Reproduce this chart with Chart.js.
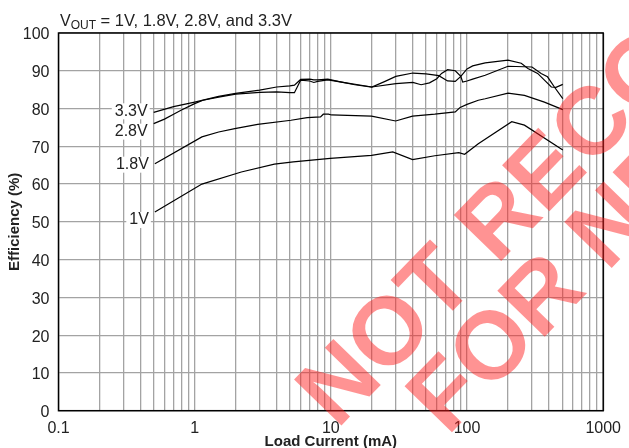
<!DOCTYPE html>
<html>
<head>
<meta charset="utf-8">
<script src="https://cdn.jsdelivr.net/npm/chart.js@4.4.1/dist/chart.umd.min.js"></script>
<style>
  html, body { margin: 0; padding: 0; background: #fff; }
  canvas { display: block; }
</style>
</head>
<body>
<canvas id="eff" width="629" height="448"></canvas>
<script>
// load current (mA) and efficiency (%)
var v33Current = [0.5, 0.7, 1.0, 1.5, 2, 3, 4, 5, 5.4, 6, 7, 7.5, 8, 9.5, 12, 15, 20, 25, 30, 40, 50, 55, 62, 72, 82, 90, 100, 110, 136, 200, 250, 280, 330, 416, 450, 505];
var v33Eff     = [79.0, 80.5, 81.7, 83.2, 84.0, 84.9, 85.7, 86.0, 86.2, 87.7, 87.8, 87.6, 87.6, 87.8, 87.0, 86.3, 85.7, 87.2, 88.5, 89.4, 89.2, 89.0, 88.7, 87.3, 87.2, 88.5, 90.5, 91.3, 92.1, 92.8, 92.0, 90.6, 89.3, 85.7, 85.6, 86.4];

var v28Current = [0.5, 0.6, 0.7, 0.8, 1.0, 1.15, 1.5, 2, 3, 4, 5, 5.4, 6, 7, 7.5, 8, 9.5, 12, 20, 30, 40, 46, 53, 60, 65, 72, 82, 90, 93, 100, 110, 136, 200, 300, 350, 390, 438, 505];
var v28Eff     = [76.0, 77.2, 78.5, 79.6, 81.3, 82.2, 83.0, 83.8, 84.3, 84.4, 84.2, 84.2, 87.5, 87.3, 86.9, 87.2, 87.6, 87.0, 85.7, 86.6, 86.9, 86.3, 86.8, 87.9, 89.3, 90.3, 90.0, 88.5, 87.0, 87.3, 87.8, 88.8, 91.2, 91.0, 89.3, 88.4, 85.7, 82.6];

var v18Current = [0.51, 1.13, 1.5, 1.97, 2.9, 5.1, 6.7, 8.4, 8.8, 9.6, 10.1, 19.9, 29.9, 39.8, 58, 82, 89, 100, 121, 136, 200, 264, 370, 505];
var v18Eff     = [65.4, 72.5, 73.8, 74.7, 75.8, 76.9, 77.6, 77.8, 78.5, 78.5, 78.3, 78.0, 76.7, 78.0, 78.5, 79.1, 80.3, 81.1, 82.2, 82.6, 84.1, 83.5, 81.7, 79.7];

var v1Current = [0.51, 1.13, 2.2, 3.85, 5.3, 9.9, 19.9, 28.5, 39.8, 58, 87, 96, 121, 213, 264, 505];
var v1Eff     = [52.6, 60.0, 63.2, 65.3, 65.9, 66.8, 67.6, 68.5, 66.5, 67.5, 68.3, 67.9, 70.7, 76.5, 75.6, 69.0];

var seriesNames = ['3.3V', '2.8V', '1.8V', '1V'];
var xTickLabels = [0.1, 1, 10, 100, 1000];
var yTickLabels = [0, 10, 20, 30, 40, 50, 60, 70, 80, 90, 100];

// log grid: 1..9 in every decade
var xGrid = [];
for (var d = 0; d < xTickLabels.length - 1; d++) {
  for (var m = 1; m < 10; m++) {
    xGrid.push(Number((m * xTickLabels[d]).toPrecision(3)));
  }
}
xGrid.push(xTickLabels[xTickLabels.length - 1]);

function pts(xs, ys) {
  return xs.map(function(x, i){ return {x: x, y: ys[i]}; });
}

// label offsets next to the start of each curve
var labelShift = [-1, 8, 1, 8];

var FONT = '"Liberation Sans", Arial, sans-serif';

var extras = {
  id: 'extras',
  beforeDatasetsDraw: function(chart) {
    var c = chart.ctx;
    c.save();
    c.font = '16px ' + FONT;
    c.textAlign = 'right';
    c.textBaseline = 'middle';
    chart.data.datasets.forEach(function(ds, i){
      var p = chart.getDatasetMeta(i).data[0];
      var tx = p.x - 6, ty = p.y + labelShift[i];
      var w = c.measureText(ds.label).width;
      c.fillStyle = '#fff';
      c.fillRect(tx - w - 3, ty - 8, w + 5, 16);
      c.fillStyle = '#222';
      c.fillText(ds.label, tx, ty);
    });
    c.restore();
  },
  afterDraw: function(chart) {
    var c = chart.ctx, a = chart.chartArea;
    c.save();
    c.strokeStyle = '#000';
    c.lineWidth = 1.5;
    c.strokeRect(a.left, a.top, a.right - a.left, a.bottom - a.top);

    // title with subscript
    c.fillStyle = '#222';
    c.textBaseline = 'alphabetic';
    c.textAlign = 'left';
    c.font = '16px ' + FONT;
    var x = 60;
    c.fillText('V', x, 26); x += c.measureText('V').width;
    c.font = '12px ' + FONT;
    c.fillText('OUT', x, 29); x += c.measureText('OUT').width;
    c.font = '16.5px ' + FONT;
    c.fillText(' = 1V, 1.8V, 2.8V, and 3.3V', x, 26);

    // axis titles
    c.font = 'bold 15px ' + FONT;
    c.textAlign = 'center';
    c.fillText('Load Current (mA)', (a.left + a.right) / 2, 446);
    c.translate(19, (a.top + a.bottom) / 2);
    c.rotate(-Math.PI / 2);
    c.fillText('Efficiency (%)', 0, 0);
    c.restore();

    // watermark
    c.save();
    c.fillStyle = 'rgba(255, 30, 30, 0.48)';
    c.font = 'bold 96px ' + FONT;
    c.textAlign = 'left';
    c.textBaseline = 'alphabetic';
    c.translate(337, 430);
    c.rotate(-0.8);
    c.fillText('NOT RECOMMENDED', 0, 0);
    c.fillText('FOR NEW DESIGNS', 72, 84);
    c.restore();
  }
};

var lineStyle = {borderColor: '#000', borderWidth: 1.2, pointRadius: 0, showLine: true, fill: false, tension: 0};

new Chart(document.getElementById('eff'), {
  type: 'scatter',
  data: {
    datasets: [
      Object.assign({label: seriesNames[0], data: pts(v33Current, v33Eff)}, lineStyle),
      Object.assign({label: seriesNames[1], data: pts(v28Current, v28Eff)}, lineStyle),
      Object.assign({label: seriesNames[2], data: pts(v18Current, v18Eff)}, lineStyle),
      Object.assign({label: seriesNames[3], data: pts(v1Current, v1Eff)}, lineStyle)
    ]
  },
  options: {
    responsive: false,
    animation: false,
    maintainAspectRatio: false,
    devicePixelRatio: 1,
    layout: {padding: {left: 0, right: 19, top: 33, bottom: 0}},
    plugins: {legend: {display: false}, tooltip: {enabled: false}},
    scales: {
      x: {
        type: 'logarithmic',
        min: 0.1, max: 1000,
        afterBuildTicks: function(s){ s.ticks = xGrid.map(function(v){ return {value: v}; }); },
        afterFit: function(s){ s.height = 37.3; },
        grid: {color: '#a3a3a3', lineWidth: 1.3, drawTicks: false},
        border: {display: false},
        ticks: {
          autoSkip: false, maxRotation: 0, padding: 8, color: '#222',
          font: {family: FONT, size: 16},
          callback: function(v){ return xTickLabels.indexOf(v) >= 0 ? String(v) : ''; }
        }
      },
      y: {
        min: 0, max: 100,
        afterBuildTicks: function(s){ s.ticks = yTickLabels.map(function(v){ return {value: v}; }); },
        afterFit: function(s){ s.width = 58.5; },
        grid: {color: '#a3a3a3', lineWidth: 1.3, drawTicks: false},
        border: {display: false},
        ticks: {padding: 9, labelOffset: 2, color: '#222', font: {family: FONT, size: 16}}
      }
    }
  },
  plugins: [extras]
});
</script>
</body>
</html>
